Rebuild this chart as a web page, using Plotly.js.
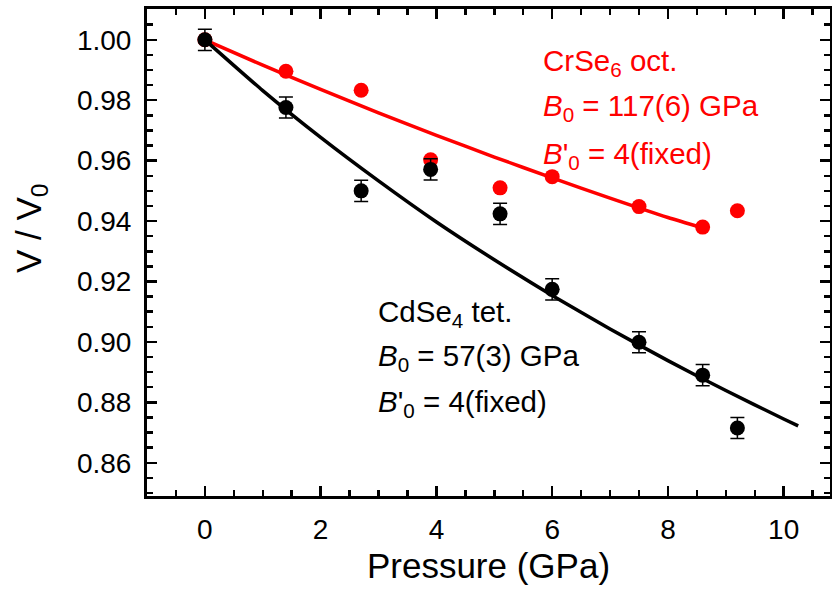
<!DOCTYPE html>
<html>
<head>
<meta charset="utf-8">
<script src="https://cdn.plot.ly/plotly-3.0.1.min.js"></script>
<style>html,body{margin:0;padding:0;background:#fff;}#chart{width:832px;height:594px;}</style>
</head>
<body>
<div id="chart"></div>
<script>
// Measured data (pressure in GPa, V/V0)
const pressure = [0, 1.4, 2.7, 3.9, 5.1, 6.0, 7.5, 8.6, 9.2];
const cdse4 = [1.000, 0.9776, 0.9500, 0.9571, 0.9424, 0.9174, 0.8999, 0.8890, 0.8715];
const cdse4Err = [0.0035, 0.0035, 0.0035, 0.0035, 0.0035, 0.0035, 0.0035, 0.0035, 0.0035];
const crse6 = [1.000, 0.9896, 0.9833, 0.9603, 0.9510, 0.9547, 0.9448, 0.9380, 0.9434];

// Fit curves
const fitCdX = [0, 1, 2, 3, 4, 5, 6, 7, 8, 9, 10, 10.25];
const fitCdY = [1.000, 0.9832, 0.9677, 0.9533, 0.9397, 0.9272, 0.9154, 0.9043, 0.8938, 0.8839, 0.8745, 0.8722];
const fitCrX = [0, 1, 2, 3, 4, 5, 6, 7, 8, 8.6];
const fitCrY = [1.000, 0.9916, 0.9836, 0.9758, 0.9684, 0.9612, 0.9543, 0.9476, 0.9412, 0.9378];

const yTickVals = [0.86, 0.88, 0.90, 0.92, 0.94, 0.96, 0.98, 1.00];
const xTickVals = [0, 2, 4, 6, 8, 10];

const FONT = 'Liberation Sans, Arial, sans-serif';
const RED = '#ff0000';

// plot-area geometry helpers (pixels -> paper)
const L = 147, R = 2, T = 9, B = 98, W = 832, H = 594;
const pw = W - L - R, ph = H - T - B;
const px = v => (v - L) / pw;
const py = v => 1 - (v - T) / ph;

const traces = [
  {x: fitCrX, y: fitCrY, mode: 'lines', line: {color: RED, width: 3.5, shape: 'spline', smoothing: 0.6}, hoverinfo: 'skip', showlegend: false},
  {x: pressure, y: crse6, mode: 'markers', marker: {color: RED, size: 15}, showlegend: false},
  {x: fitCdX, y: fitCdY, mode: 'lines', line: {color: '#000', width: 3.5, shape: 'spline', smoothing: 0.6}, hoverinfo: 'skip', showlegend: false},
  {x: pressure, y: cdse4, mode: 'markers', marker: {color: '#000', size: 15},
   error_y: {type: 'data', array: cdse4Err, visible: true, color: '#000', thickness: 1.5, width: 7}, showlegend: false}
];

const axisCommon = {
  showgrid: false, zeroline: false, showline: true, linecolor: '#000', linewidth: 3,
  mirror: 'ticks', ticks: 'inside', ticklen: 10, tickwidth: 2.5, tickcolor: '#000',
  tickfont: {family: FONT, size: 28, color: '#000'}
};

const annFont = (c) => ({family: FONT, size: 29.5, color: c});
const ann = (x, y, text, c) => ({xref: 'paper', yref: 'paper', x: px(x), y: py(y), xanchor: 'left', yanchor: 'middle', showarrow: false, text: text, font: annFont(c)});

const layout = {
  width: W, height: H,
  margin: {l: L, r: R, t: T, b: B},
  paper_bgcolor: '#fff', plot_bgcolor: '#fff',
  showlegend: false,
  xaxis: Object.assign({}, axisCommon, {
    range: [-1, 10.8], tickmode: 'array', tickvals: xTickVals, ticktext: xTickVals.map(String),
    minor: {dtick: 0.5, tick0: 0, ticks: 'inside', ticklen: 6, tickwidth: 2.5, tickcolor: '#000'},
    ticklabelstandoff: 6,
    title: {text: 'Pressure (GPa)', font: {family: FONT, size: 35, color: '#000'}, standoff: 10}
  }),
  yaxis: Object.assign({}, axisCommon, {
    range: [0.849, 1.0102], tickmode: 'array', tickvals: yTickVals, ticktext: yTickVals.map(v => v.toFixed(2)),
    minor: {dtick: 0.005, tick0: 0.86, ticks: 'inside', ticklen: 6, tickwidth: 2.5, tickcolor: '#000'},
    ticklabelstandoff: 7
  }),
  annotations: [
    {xref: 'paper', yref: 'paper', x: px(31), y: py(228), xanchor: 'center', yanchor: 'middle', textangle: -90, showarrow: false,
     text: 'V / V<sub>0</sub>', font: {family: FONT, size: 35, color: '#000'}},
    ann(541, 63, 'CrSe<sub>6</sub> oct.', RED),
    ann(541, 108, '<i>B</i><sub>0</sub> = 117(6) GPa', RED),
    ann(541, 155, '<i>B</i>\'<sub>0</sub> = 4(fixed)', RED),
    ann(376, 313, 'CdSe<sub>4</sub> tet.', '#000'),
    ann(376, 357, '<i>B</i><sub>0</sub> = 57(3) GPa', '#000'),
    ann(376, 403, '<i>B</i>\'<sub>0</sub> = 4(fixed)', '#000')
  ]
};

Plotly.newPlot('chart', traces, layout, {displayModeBar: false, staticPlot: true});
</script>
</body>
</html>
